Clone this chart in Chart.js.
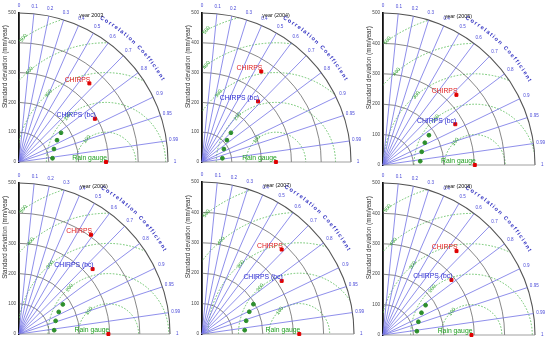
<!DOCTYPE html>
<html>
<head>
<meta charset="utf-8">
<script src="https://cdn.jsdelivr.net/npm/chart.js@4.4.1/dist/chart.umd.min.js"></script>
<style>
html, body { margin: 0; padding: 0; background: #fff; width: 550px; height: 343px; overflow: hidden; position: relative; }
canvas { position: absolute; }
</style>
</head>
<body>
<script>
// values
var years = ["year 2003", "year (2004)", "year (2005)", "year (2006)", "year (2007)", "year (2008)"];
var gaugeStd = [292, 248, 302, 296, 320, 291];
var chirpsStd = [354, 363, 334, 406, 382, 367];
var chirpsCorr = [0.667, 0.548, 0.723, 0.587, 0.686, 0.659];
var bcStd = [293, 277, 273, 325, 315, 289];
var bcCorr = [0.869, 0.679, 0.871, 0.750, 0.832, 0.779];
var corrTicks = [0, 0.1, 0.2, 0.3, 0.4, 0.5, 0.6, 0.7, 0.8, 0.9, 0.95, 0.99, 1];
var stdTicks = [100, 200, 300, 400, 500];
var rmsTicks = [100, 200, 300, 400, 500];
var dotRms = 180;
var dotAngles = [147, 156, 166, 176];

// where each diagram sits: origin x, origin y, radius (px)
var panels = [[19, 162, 149], [202, 162, 149], [383, 165, 152], [19, 334, 151], [202, 334, 152], [383, 335, 152]];

var FONT = "'Liberation Sans', Arial, sans-serif";

function polar(std, corr) {
	return { x: std * corr, y: std * Math.sqrt(1 - corr * corr) };
}

var taylorGrid = {
	id: "taylorGrid",
	beforeDatasetsDraw: function (chart, args, opts) {
		var ctx = chart.ctx, xs = chart.scales.x, ys = chart.scales.y;
		var ox = xs.getPixelForValue(0), oy = ys.getPixelForValue(0);
		function len(v) { return xs.getPixelForValue(v) - ox; }
		var R = len(500);
		ctx.save();

		// rms difference circles round the gauge point
		ctx.save();
		ctx.beginPath();
		ctx.moveTo(ox, oy);
		ctx.arc(ox, oy, R, -Math.PI / 2, 0);
		ctx.closePath();
		ctx.clip();
		ctx.strokeStyle = "#5cbd5c";
		ctx.lineWidth = 0.9;
		ctx.setLineDash([1.6, 1.6]);
		var rx = xs.getPixelForValue(opts.ref);
		rmsTicks.forEach(function (r) {
			ctx.beginPath();
			ctx.arc(rx, oy, len(r), Math.PI, 2 * Math.PI);
			ctx.stroke();
		});
		ctx.restore();

		// standard deviation arcs
		ctx.strokeStyle = "#555";
		stdTicks.forEach(function (s) {
			ctx.lineWidth = s === 500 ? 1.1 : 0.7;
			ctx.beginPath();
			ctx.arc(ox, oy, len(s), -Math.PI / 2, 0);
			ctx.stroke();
		});

		// correlation rays
		ctx.strokeStyle = "#7272e6";
		ctx.lineWidth = 0.8;
		corrTicks.forEach(function (c) {
			if (c === 0 || c === 1) return;
			var p = polar(500, c);
			ctx.beginPath();
			ctx.moveTo(ox, oy);
			ctx.lineTo(xs.getPixelForValue(p.x), ys.getPixelForValue(p.y));
			ctx.stroke();
		});
		ctx.strokeStyle = "#888";
		ctx.beginPath();
		ctx.moveTo(ox, oy);
		ctx.lineTo(xs.getPixelForValue(500), oy);
		ctx.stroke();

		// correlation labels
		ctx.fillStyle = "#4a4ad8";
		ctx.font = "4.6px " + FONT;
		ctx.textAlign = "center";
		ctx.textBaseline = "middle";
		corrTicks.forEach(function (c) {
			var p = polar(524, c);
			ctx.fillText(String(c), xs.getPixelForValue(p.x), ys.getPixelForValue(p.y));
		});

		// "Correlation Coefficient" along the arc
		var word = "Correlation Coefficient";
		ctx.font = "bold 5.6px " + FONT;
		ctx.fillStyle = "#2f2fc0";
		var rr = len(557);
		var a0 = 60.6 * Math.PI / 180, a1 = 29.7 * Math.PI / 180;
		var widths = word.split("").map(function (ch) { return ctx.measureText(ch).width; });
		var total = widths.reduce(function (a, b) { return a + b; }, 0);
		var gap = ((a0 - a1) * rr - total) / (word.length - 1);
		var run = 0;
		word.split("").forEach(function (ch, i) {
			var a = a0 - (run + widths[i] / 2) / rr;
			run += widths[i] + gap;
			ctx.save();
			ctx.translate(ox + rr * Math.cos(a), oy - rr * Math.sin(a));
			ctx.rotate(Math.PI / 2 - a);
			ctx.fillText(ch, 0, 0);
			ctx.restore();
		});

		// rms labels
		ctx.fillStyle = "#30a030";
		ctx.font = "5.2px " + FONT;
		rmsTicks.forEach(function (r) {
			var a = 130 * Math.PI / 180;
			if (opts.ref + r * Math.cos(a) < 15) a = Math.acos((15 - opts.ref) / r);
			var x = xs.getPixelForValue(opts.ref + r * Math.cos(a));
			var y = ys.getPixelForValue(r * Math.sin(a));
			ctx.save();
			ctx.translate(x, y);
			ctx.rotate(-52 * Math.PI / 180);
			ctx.fillText(String(r), 0, 0);
			ctx.restore();
		});

		// y title and year
		ctx.fillStyle = "#333";
		ctx.font = "6.3px " + FONT;
		ctx.save();
		ctx.translate(ox - 14, oy - 0.64 * R);
		ctx.rotate(-Math.PI / 2);
		ctx.fillText("Standard deviation (mm/year)", 0, 0);
		ctx.restore();
		ctx.fillStyle = "#111";
		ctx.font = "5.4px " + FONT;
		ctx.textAlign = "left";
		ctx.fillText(opts.year, ox + 0.405 * R, oy - 0.98 * R);
		ctx.restore();
	},
	afterDatasetsDraw: function (chart, args, opts) {
		var ctx = chart.ctx;
		var meta = chart.getDatasetMeta(1);
		var colors = ["#22a022", "#2a2ad0", "#e02020"];
		ctx.save();
		ctx.font = "6.8px " + FONT;
		ctx.textAlign = "right";
		ctx.textBaseline = "middle";
		meta.data.forEach(function (pt, i) {
			ctx.fillStyle = colors[i];
			ctx.fillText(opts.names[i], pt.x + 1, pt.y - 3.5);
		});
		ctx.restore();
	}
};

panels.forEach(function (pn, i) {
	var ox = pn[0], oy = pn[1], R = pn[2];
	var cv = document.createElement("canvas");
	cv.width = R + 19 + 22;
	cv.height = R + 13 + 9;
	cv.style.left = (ox - 19) + "px";
	cv.style.top = (oy - R - 13) + "px";
	document.body.appendChild(cv);

	var marks = [
		{ x: gaugeStd[i], y: 0 },
		polar(bcStd[i], bcCorr[i]),
		polar(chirpsStd[i], chirpsCorr[i])
	];
	var dots = dotAngles.map(function (d) {
		var a = d * Math.PI / 180;
		return { x: gaugeStd[i] + dotRms * Math.cos(a), y: dotRms * Math.sin(a) };
	});

	new Chart(cv, {
		type: "scatter",
		data: {
			datasets: [
				{
					label: "green",
					data: dots,
					pointStyle: "circle",
					pointRadius: 1.9,
					backgroundColor: "#2d8f2d",
					borderColor: "#2d8f2d",
					clip: false
				},
				{
					label: "stations",
					data: marks,
					pointStyle: "rect",
					pointRadius: 2.1,
					backgroundColor: "#e00000",
					borderColor: "#e00000",
					clip: false
				}
			]
		},
		options: {
			responsive: false,
			animation: false,
			devicePixelRatio: 1,
			layout: { padding: { left: 0, top: 13, right: 22, bottom: 9 } },
			plugins: {
				legend: { display: false },
				tooltip: { enabled: false },
				taylorGrid: { ref: gaugeStd[i], year: years[i], names: ["Rain gauge", "CHIRPS (bc)", "CHIRPS"] }
			},
			scales: {
				x: { type: "linear", min: 0, max: 500, display: false },
				y: {
					type: "linear",
					min: 0,
					max: 500,
					afterFit: function (s) { s.width = 19; },
					grid: { display: true, color: "rgba(0,0,0,0)", drawTicks: false },
					border: { color: "#111", width: 1.8 },
					ticks: { stepSize: 100, padding: 3, color: "#444", font: { size: 4.6, family: FONT } }
				}
			}
		},
		plugins: [taylorGrid]
	});
});
</script>
</body>
</html>
